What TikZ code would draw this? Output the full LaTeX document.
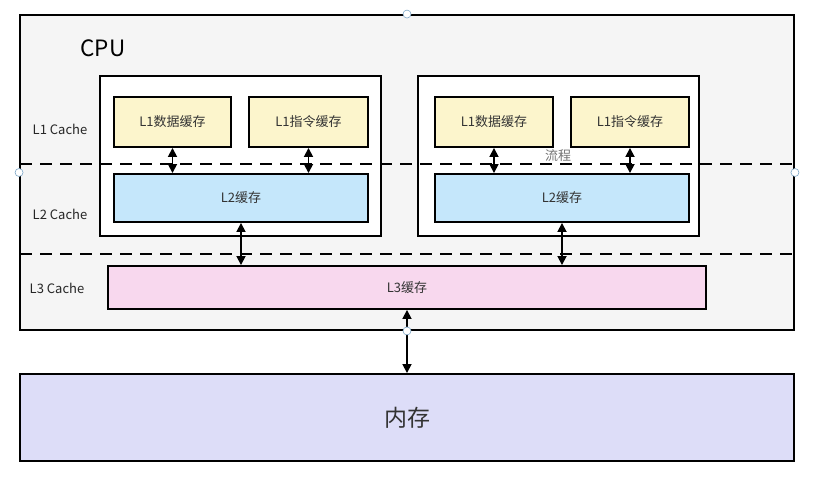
\documentclass[tikz,border=0pt]{standalone}
\usepackage{fontspec}
\setmainfont{Noto Sans CJK SC}
\usetikzlibrary{arrows.meta}

\definecolor{cpugray}{HTML}{F5F5F5}
\definecolor{lonefill}{HTML}{FCF5CC}
\definecolor{ltwofill}{HTML}{C5E7FB}
\definecolor{lthreefill}{HTML}{F8D8EE}
\definecolor{memfill}{HTML}{DDDDF8}
\definecolor{handle}{HTML}{7FA8C8}

\tikzset{
  box/.style = {draw, line width=1.9pt, inner sep=0pt, text=black!80},
  cachebox/.style = {box, minimum height=50pt, font=\fontsize{13}{15}\selectfont},
  lvl/.style = {font=\fontsize{13}{15}\selectfont, text=black!85},
  dbl/.style = {{Triangle[length=9pt,width=9pt]}-{Triangle[length=9pt,width=9pt]}, line width=1.7pt},
  sep/.style = {line width=1.6pt, dash pattern=on 12pt off 8pt},
  grip/.style = {circle, draw=handle, fill=white, line width=0.6pt, inner sep=0pt, minimum size=8pt}
}

\begin{document}
\begin{tikzpicture}[x=1pt, y=-1pt]
  \useasboundingbox (0,0) rectangle (823,486);
  %outer CPU box
  \node[box, fill=cpugray, minimum width=774pt, minimum height=315pt] (cpu) at (407,172.5) {};
  \node[font=\fontsize{22.5}{26}\selectfont] (cpulabel) at (103,48) {CPU};
  %two cores
  \node[box, fill=white, minimum width=281pt, minimum height=160pt] (coreA) at (240.5,156) {};
  \node[box, fill=white, minimum width=281pt, minimum height=160pt] (coreB) at (558.5,156) {};
  %level separators
  \coordinate (sepA) at (20,164);
  \coordinate (sepB) at (20,254);
  \draw[sep] (sepA) -- (sepA -| cpu.east);
  \draw[sep] (sepB) -- (sepB -| cpu.east);
  %level labels
  \node[lvl] (lone) at (60,129) {L1 Cache};
  \node[lvl] (ltwo) at (60,214) {L2 Cache};
  \node[lvl] (lthree) at (57,288) {L3 Cache};
  %caches of core A
  \node[cachebox, fill=lonefill, minimum width=117pt] (dataA) at (172.5,122) {L1数据缓存};
  \node[cachebox, fill=lonefill, minimum width=119pt] (instA) at (308.5,122) {L1指令缓存};
  \node[cachebox, fill=ltwofill, minimum width=254pt, minimum height=48pt] (ltwoA) at (241,198) {L2缓存};
  %caches of core B
  \node[cachebox, fill=lonefill, minimum width=118pt] (dataB) at (494,122) {L1数据缓存};
  \node[cachebox, fill=lonefill, minimum width=118pt] (instB) at (630,122) {L1指令缓存};
  \node[cachebox, fill=ltwofill, minimum width=254pt, minimum height=48pt] (ltwoB) at (562,198) {L2缓存};
  \node[font=\fontsize{13}{15}\selectfont, text=black!55] (flow) at (558,156) {流程};
  %shared L3 and memory
  \node[cachebox, fill=lthreefill, minimum width=598pt, minimum height=43pt] (lthreebox) at (407,287.5) {L3缓存};
  \node[box, fill=memfill, minimum width=774pt, minimum height=87pt, font=\fontsize{23}{27}\selectfont] (mem) at (407,417.5) {内存};
  %links
  \draw[dbl] (dataA.south) -- (dataA.south |- ltwoA.north);
  \draw[dbl] (instA.south) -- (instA.south |- ltwoA.north);
  \draw[dbl] (dataB.south) -- (dataB.south |- ltwoB.north);
  \draw[dbl] (instB.south) -- (instB.south |- ltwoB.north);
  \draw[dbl] (ltwoA.south) -- (ltwoA.south |- lthreebox.north);
  \draw[dbl] (ltwoB.south) -- (ltwoB.south |- lthreebox.north);
  \draw[dbl] (lthreebox.south) -- (mem.north);
  %selection handles
  \node[grip] (gripN) at (cpu.north) {};
  \node[grip] (gripW) at (cpu.west) {};
  \node[grip] (gripE) at (cpu.east) {};
  \node[grip] (gripS) at (cpu.south) {};
\end{tikzpicture}
\end{document}
